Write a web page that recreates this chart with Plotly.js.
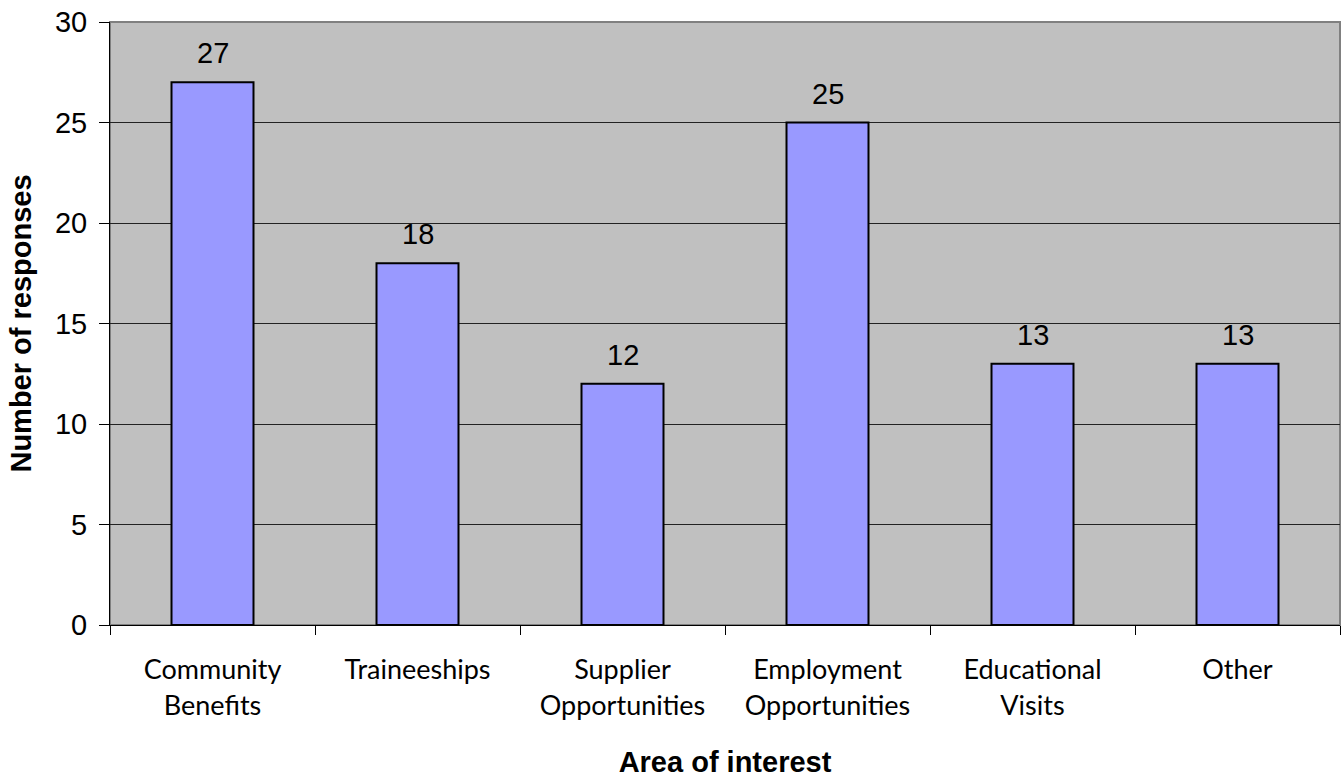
<!DOCTYPE html>
<html>
<head>
<meta charset="utf-8">
<script src="https://cdn.plot.ly/plotly-3.0.1.min.js"></script>
<style>html,body{margin:0;padding:0;background:#fff;}#chart{width:1342px;height:778px;}</style>
</head>
<body>
<div id="chart"></div>
<script>
const categories = ["Community<br>Benefits", "Traineeships", "Supplier<br>Opportunities", "Employment<br>Opportunities", "Educational<br>Visits", "Other"];
const responses = [27, 18, 12, 25, 13, 13];
const yTicks = [0, 5, 10, 15, 20, 25, 30];

const trace = {
  type: 'bar',
  x: categories,
  y: responses,
  width: 0.4,
  marker: {color: '#9999ff', line: {color: '#000000', width: 2}},
  hoverinfo: 'none'
};

const annotations = categories.map((c, i) => ({
  x: c, y: responses[i], xref: 'x', yref: 'y',
  text: String(responses[i]), showarrow: false,
  yanchor: 'middle', yshift: 29,
  font: {family: 'Liberation Sans, Arial, sans-serif', size: 29, color: '#000'}
}));

const layout = {
  width: 1342, height: 778,
  margin: {l: 110, r: 2, t: 22, b: 153},
  paper_bgcolor: '#ffffff',
  plot_bgcolor: '#c0c0c0',
  showlegend: false,
  xaxis: {
    type: 'category',
    tickson: 'boundaries',
    ticks: 'outside', ticklen: 9, tickcolor: '#000', tickwidth: 1,
    ticklabelstandoff: 21,
    showline: true, linecolor: '#000', linewidth: 1,
    showgrid: false,
    tickfont: {family: 'Lato, Open Sans, sans-serif', size: 27, color: '#000'},
    title: {text: '<b>Area of interest</b>', font: {family: 'Liberation Sans, Arial, sans-serif', size: 29, color: '#000'}, standoff: 38}
  },
  yaxis: {
    range: [0, 30],
    tickvals: yTicks,
    ticks: 'outside', ticklen: 10, tickcolor: '#000', tickwidth: 1,
    ticklabelstandoff: 6,
    showline: true, linecolor: '#000', linewidth: 1,
    showgrid: true, gridcolor: '#222222', gridwidth: 1,
    zeroline: false,
    tickfont: {family: 'Liberation Sans, Arial, sans-serif', size: 29, color: '#000'},
    title: {text: '<b>Number of responses</b>', font: {family: 'Liberation Sans, Arial, sans-serif', size: 29, color: '#000'}, standoff: 14}
  },
  shapes: [{
    type: 'rect', xref: 'paper', yref: 'paper', x0: 0, x1: 1, y0: 0, y1: 1,
    line: {color: '#808080', width: 2}, layer: 'below'
  }],
  annotations: annotations
};

Plotly.newPlot('chart', [trace], layout, {displayModeBar: false, staticPlot: true});
</script>
</body>
</html>
